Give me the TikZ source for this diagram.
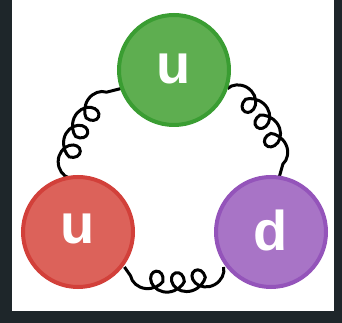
\documentclass[tikz,border=0pt]{standalone}
\usepackage{fontspec}
\setmainfont{Liberation Sans}
\usetikzlibrary{decorations.pathmorphing}
\definecolor{bgdark}{RGB}{30,38,42}
\definecolor{gfill}{RGB}{94,174,80}
\definecolor{gring}{RGB}{58,157,50}
\definecolor{rfill}{RGB}{220,98,90}
\definecolor{rring}{RGB}{210,64,58}
\definecolor{pfill}{RGB}{168,116,198}
\definecolor{pring}{RGB}{148,84,186}
\tikzset{
  quark/.style={circle, line width=4pt, minimum size=110pt, inner sep=0pt},
  gluon/.style={line width=3pt, black, decorate,
    decoration={coil, amplitude=11pt, segment length=21pt, aspect=1.0}},
  qlabel/.style={text=white, font=\fontsize{56}{56}\selectfont\bfseries, inner sep=0pt, anchor=base}
}
\begin{document}
\begin{tikzpicture}[x=1pt,y=1pt]
\useasboundingbox (0,0) rectangle (342,323);
\fill[bgdark] (0,0) rectangle (342,323);
\fill[white] (12,12) rectangle (334,323);
\coordinate (c) at (174,144);
% gluons
\draw[gluon] ([shift={(179.4:105)}]c) arc[start angle=179.4, end angle=120.6, radius=105];
\draw[gluon] ([shift={(299.4:101)}]c) arc[start angle=299.4, end angle=240.6, radius=101];
\draw[gluon] ([shift={(59.4:105)}]c) arc[start angle=59.4, end angle=0.6, radius=105];
% quarks
\node[quark, draw=gring, fill=gfill] (g) at (174,253) {};
\node[quark, draw=rring, fill=rfill] (r) at (78,91) {};
\node[quark, draw=pring, fill=pfill] (p) at (271,91) {};
\node[qlabel] (gl) at ([yshift=-14pt]g.center) {u};
\node[qlabel] (rl) at ([yshift=-12pt]r.center) {u};
\node[qlabel] (pl) at ([yshift=-19pt]p.center) {d};
\end{tikzpicture}
\end{document}
